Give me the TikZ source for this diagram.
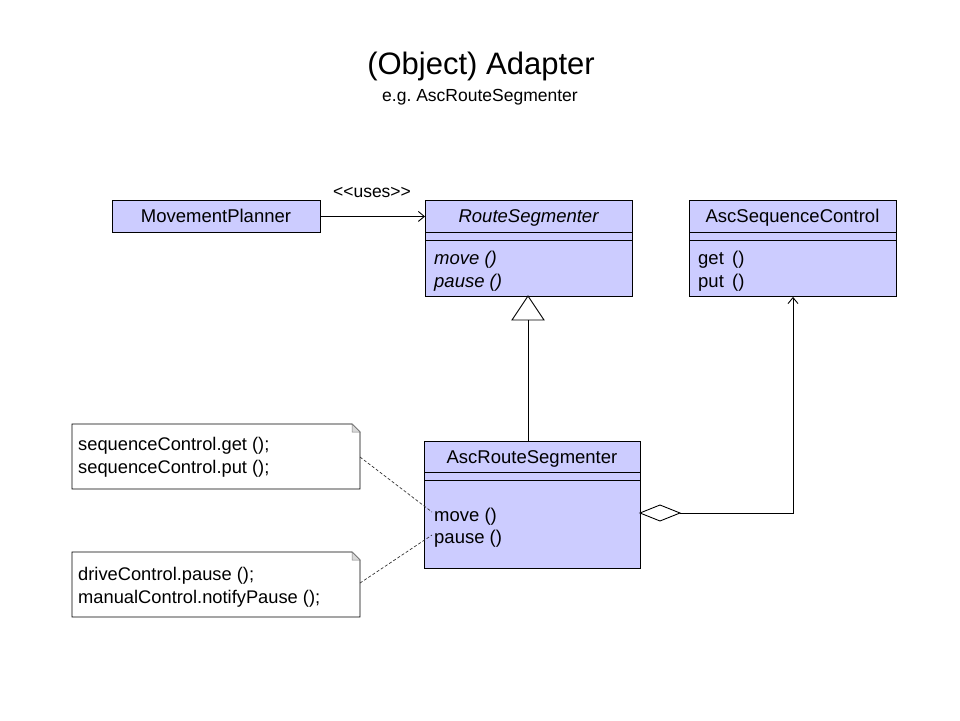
\documentclass[tikz,border=0pt]{standalone}
\usepackage{fontspec}
\setmainfont{Liberation Sans}
\usetikzlibrary{arrows.meta}
\definecolor{classfill}{RGB}{204,204,255}
\begin{document}
\begin{tikzpicture}[x=1pt,y=-1pt,
  classbox/.style={draw=black, fill=classfill, line width=0.9pt, inner sep=0pt, anchor=north west},
  notebox/.style={draw=black, fill=white, line width=0.9pt},
  txt/.style={font=\fontsize{18.5}{21}\selectfont, inner sep=0pt},
  itxt/.style={font=\fontsize{18.5}{21}\selectfont\itshape, inner sep=0pt},
  notetxt/.style={font=\fontsize{18.3}{21}\selectfont, inner sep=0pt},
  conn/.style={line width=0.9pt},
  notelink/.style={line width=0.7pt, dash pattern=on 3pt off 2pt, draw=black!80}
]
\useasboundingbox (0,0) rectangle (960,720);

% title
\node[inner sep=0pt, font=\fontsize{31}{34}\selectfont] (title) at (481,66) {(Object) Adapter};
\node[inner sep=0pt, font=\fontsize{17.5}{20}\selectfont] (subtitle) at (480,97) {e.g.\ AscRouteSegmenter};

% MovementPlanner
\node[classbox, minimum width=208pt, minimum height=32pt] (mp) at (112,200) {};
\node[txt, anchor=base] (mpname) at (216,222.6) {MovementPlanner};

% RouteSegmenter
\node[classbox, minimum width=207pt, minimum height=96pt] (rs) at (425,200) {};
\draw[conn] (425,232) -- (632,232) (425,240) -- (632,240);
\node[itxt, anchor=base] (rsname) at (528.5,222.6) {RouteSegmenter};
\node[itxt, anchor=base west] (rsm1) at (434,264) {move ()};
\node[itxt, anchor=base west] (rsm2) at (434,287) {pause ()};

% AscSequenceControl
\node[classbox, minimum width=207pt, minimum height=96pt] (asc) at (689,200) {};
\draw[conn] (689,232) -- (896,232) (689,240) -- (896,240);
\node[txt, anchor=base] (ascname) at (792.5,222.6) {AscSequenceControl};
\node[txt, anchor=base west] (ascm1) at (698,264) {get \,()};
\node[txt, anchor=base west] (ascm2) at (698,287) {put \,()};

% AscRouteSegmenter
\node[classbox, minimum width=216pt, minimum height=127pt] (ars) at (424,441) {};
\draw[conn] (424,472) -- (640,472) (424,480) -- (640,480);
\node[txt, anchor=base] (arsname) at (532,463.6) {AscRouteSegmenter};
\node[txt, anchor=base west] (arsm1) at (434,521) {move ()};
\node[txt, anchor=base west] (arsm2) at (434,543.5) {pause ()};

% notes
\draw[notebox] (72,424) -- (352,424) -- (360,432) -- (360,489) -- (72,489) -- cycle;
\draw[line width=0.5pt, draw=black!50, fill=black!15] (352,424) -- (352,432) -- (360,432) -- cycle;
\coordinate (n1) at (360,457);
\node[notetxt, anchor=base west] (n1a) at (78,450) {sequenceControl.get ();};
\node[notetxt, anchor=base west] (n1b) at (78,473) {sequenceControl.put ();};

\draw[notebox] (72,552) -- (352,552) -- (360,560) -- (360,617) -- (72,617) -- cycle;
\draw[line width=0.5pt, draw=black!50, fill=black!15] (352,552) -- (352,560) -- (360,560) -- cycle;
\coordinate (n2) at (360,583);
\node[notetxt, anchor=base west] (n2a) at (78,580) {driveControl.pause ();};
\node[notetxt, anchor=base west] (n2b) at (78,603) {manualControl.notifyPause ();};

% note links
\coordinate (l1) at (432,512);
\coordinate (l2) at (432,535);
\draw[notelink] (n1) -- (l1);
\draw[notelink] (n2) -- (l2);

% uses dependency
\draw[conn, -{Straight Barb[length=6pt, width=10pt]}] (mp.east) -- (rs.west |- mp.east);
\node[inner sep=0pt, font=\fontsize{17.5}{20}\selectfont] (uses) at (372,192) {<{}<uses>{}>};

% generalization
\coordinate (tribase) at (528,320);
\draw[conn, fill=white] (528,296) -- (544,320) -- (512,320) -- cycle;
\draw[conn] (tribase) -- (ars.north -| tribase);

% aggregation
\coordinate (dend) at (680,513);
\coordinate (corner) at (793,513);
\draw[conn, fill=white] (640,513) -- (660,505) -- (680,513) -- (660,521) -- cycle;
\draw[conn, -{Straight Barb[length=6pt, width=10pt]}] (dend) -- (corner) -- (asc.south -| corner);
\end{tikzpicture}
\end{document}
